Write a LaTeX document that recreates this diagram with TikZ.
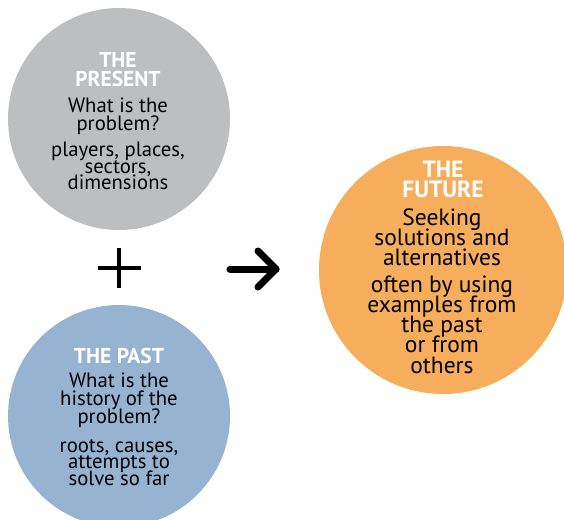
\documentclass[tikz,border=0pt]{standalone}
\usepackage{fontspec}
\setmainfont{PT Sans}
\definecolor{presentgray}{HTML}{BCBEC0}
\definecolor{pastblue}{HTML}{97B3D2}
\definecolor{futureorange}{HTML}{F6AE5C}
\tikzset{
  bubble/.style={circle, inner sep=0pt, draw=none},
  txt/.style={anchor=base, inner sep=0pt, text height=0.6em, text depth=0.12em},
  ttl/.style={txt, text=white, font=\bfseries\fontsize{21.5}{21.5}\selectfont},
  body/.style={txt, text=black, font=\fontsize{20.7}{20.7}\selectfont},
  ttlbig/.style={txt, text=white, font=\bfseries\fontsize{23.5}{23.5}\selectfont},
  bodybig/.style={txt, text=black, font=\fontsize{23.5}{23.5}\selectfont},
  sign/.style={line width=4.5pt},
  arrowline/.style={line width=7pt, line cap=round, line join=round}
}
\begin{document}
\begin{tikzpicture}[x=1pt,y=-1pt]
\useasboundingbox (0,0) rectangle (564,519);
\begin{scope}
\clip (0,0) rectangle (564,519);
\node[bubble, fill=presentgray, minimum size=222pt] (present) at (119,119) {};
\node[bubble, fill=pastblue, minimum size=222pt] (past) at (119,416) {};
\node[bubble, fill=futureorange, minimum size=248pt] (future) at (443,270) {};
\end{scope}
% present text
\node[ttl] (p1) at (118,67) {THE};
\node[ttl] (p2) at (118,86) {PRESENT};
\foreach \t/\y [count=\i] in {{What is the}/112, {problem?}/130, {players, places,}/156, {sectors,}/173, {dimensions}/189}
  \node[body, name=pb\i] at (118,\y) {\t};
% past text
\node[ttl] (q1) at (119,363) {THE PAST};
\foreach \t/\y [count=\i] in {{What is the}/387, {history of the}/405, {problem?}/423, {roots, causes,}/452, {attempts to}/468, {solve so far}/485}
  \node[body, name=qb\i] at (119,\y) {\t};
% future text
\node[ttlbig] (f1) at (443,177) {THE};
\node[ttlbig] (f2) at (443,197) {FUTURE};
\foreach \t/\y [count=\i] in {{Seeking}/225, {solutions and}/245, {alternatives}/265, {often by using}/292, {examples from}/312, {the past}/332, {or from}/352, {others}/373}
  \node[bodybig, name=fb\i] at (442,\y) {\t};
% plus sign
\coordinate (plusL) at (98,268);
\coordinate (plusR) at (141,268);
\coordinate (plusT) at (119,248);
\coordinate (plusB) at (119,288);
\draw[sign] (plusL) -- (plusR);
\draw[sign] (plusT) -- (plusB);
% arrow
\coordinate (arrS) at (230,269);
\coordinate (arrE) at (276,269);
\coordinate (arrU) at (258,251);
\coordinate (arrD) at (258,287);
\draw[arrowline] (arrS) -- (arrE);
\draw[arrowline] (arrU) -- (arrE) -- (arrD);
\end{tikzpicture}
\end{document}
